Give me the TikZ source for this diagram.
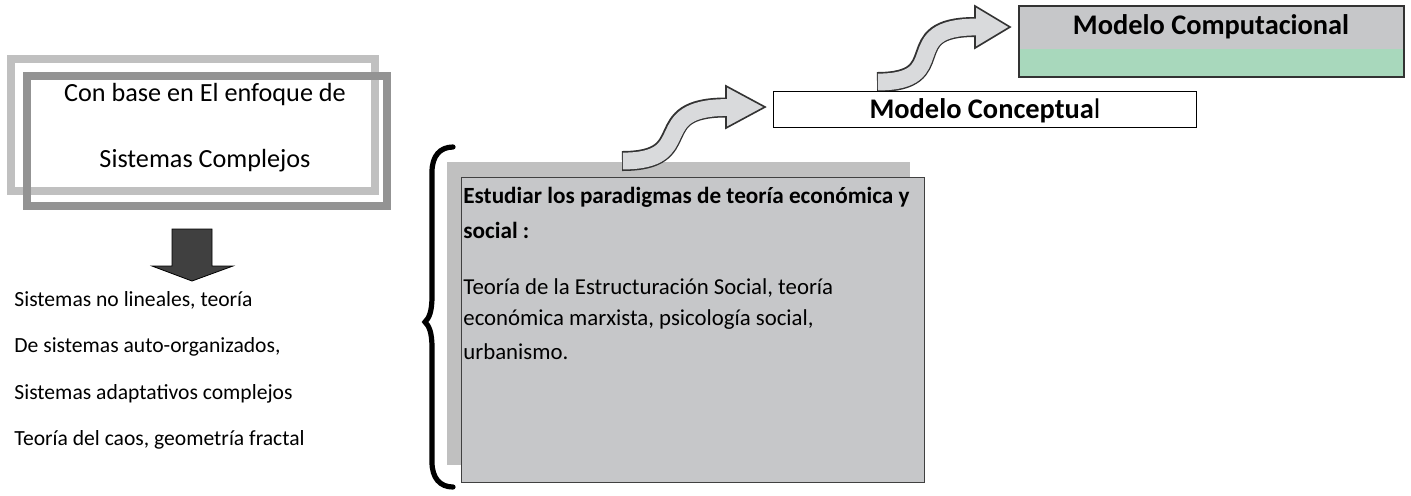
\documentclass[tikz,border=0pt]{standalone}
\usepackage{fontspec}
\setmainfont{Carlito}
\definecolor{lightframe}{HTML}{C0C0C0}
\definecolor{darkframe}{HTML}{939393}
\definecolor{boxgray}{HTML}{C6C7C9}
\definecolor{backgray}{HTML}{C0C0C0}
\definecolor{arrowgray}{HTML}{D9DADC}
\definecolor{edgegray}{HTML}{333333}
\definecolor{mintgreen}{HTML}{A8D8BC}
\definecolor{downgray}{HTML}{404040}
\begin{document}
\begin{tikzpicture}[x=0.5pt,y=-0.5pt,
  listtext/.style={anchor=west,inner sep=0pt,font=\fontsize{10.8}{12}\selectfont},
  boxtext/.style={anchor=west,inner sep=0pt,font=\fontsize{11.4}{13}\selectfont},
  boxbold/.style={anchor=west,inner sep=0pt,font=\bfseries\fontsize{11.6}{13}\selectfont},
  frametext/.style={inner sep=0pt,font=\fontsize{13.1}{15}\selectfont},
  titletext/.style={inner sep=0pt,font=\bfseries\fontsize{14.2}{16}\selectfont},
  bandout/.style={line width=10pt,draw=edgegray},
  bandin/.style={line width=8.4pt,draw=arrowgray},
  headstyle/.style={fill=arrowgray,draw=edgegray,line width=0.8pt,line join=miter}
]
\useasboundingbox (0,0) rectangle (1411,495);
\fill[white] (0,0) rectangle (1411,495);

% double frame
\draw[lightframe,line width=4pt] (11,59) rectangle (375,191);
\draw[darkframe,line width=4pt] (27,76) rectangle (387,206);
\node[frametext] (t1) at (205,95) {Con base en El enfoque de};
\node[frametext] (t2) at (205,161) {Sistemas Complejos};

% down arrow
\draw[fill=downgray,draw=black,line width=0.4pt,line join=miter]
  (172,229) -- (212,229) -- (212,266) -- (233,266) -- (192,281) -- (152,266) -- (172,266) -- cycle;

% left list
\node[listtext] (l1) at (14,300) {Sistemas no lineales, teoría};
\node[listtext] (l2) at (14,347) {De sistemas auto-organizados,};
\node[listtext] (l3) at (14,394) {Sistemas adaptativos complejos};
\node[listtext] (l4) at (14,440) {Teoría del caos, geometría fractal};

% brace
\draw[black,line width=2.6pt,line cap=round]
  (453,147) .. controls (440,147) and (432,156) .. (432,172)
  -- (432,296) .. controls (432,312) and (429,318) .. (425,322)
  .. controls (429,326) and (432,332) .. (432,348)
  -- (432,462) .. controls (432,478) and (440,487) .. (453,487);

% back gray rectangle
\fill[backgray] (447,162) rectangle (910,465);

% curved arrow 1
\coordinate (a1s) at (622,161);
\coordinate (a1e) at (726,107.5);
\draw[bandout] (a1s) .. controls (700,161) and (645,107.5) .. (a1e);
\draw[headstyle] (726,86) -- (765,107) -- (726,128) -- cycle;
\draw[bandin] (622.9,161) .. controls (700,161) and (645,107.5) .. (727.5,107.5);

% front box
\node[draw=downgray,fill=boxgray,line width=0.6pt,inner sep=0pt,
  anchor=north west,minimum width=231.5pt,minimum height=152.5pt] (para) at (461,177) {};
\node[boxbold] (p1) at (463,197) {Estudiar los paradigmas de teoría económica y};
\node[boxbold] (p2) at (463,230) {social :};
\node[boxtext] (p3) at (463,288) {Teoría de la Estructuración Social, teoría};
\node[boxtext] (p4) at (463,320) {económica marxista, psicología social,};
\node[boxtext] (p5) at (463,352) {urbanismo.};

% curved arrow 2
\coordinate (a2s) at (877,82);
\coordinate (a2e) at (975,27);
\draw[bandout] (a2s) .. controls (955,82) and (895,27) .. (a2e);
\draw[headstyle] (975,6) -- (1010,27) -- (975,48) -- cycle;
\draw[bandin] (877.9,82) .. controls (955,82) and (895,27) .. (976.5,27);

% Modelo Conceptual
\node[draw=black,fill=white,line width=0.7pt,inner sep=0pt,anchor=north west,
  minimum width=211.5pt,minimum height=18pt] (mc) at (773,91) {};
\node[titletext] (mct) at (985,111) {Modelo Conceptua\mdseries l};

% Modelo Computacional
\fill[mintgreen] (1018,49) rectangle (1403,76);
\fill[boxgray] (1018,5) rectangle (1403,49);
\node[draw=edgegray,line width=0.9pt,inner sep=0pt,anchor=north west,
  minimum width=192.5pt,minimum height=35.5pt] (mp) at (1018,5) {};
\node[titletext] (mpt) at (1211,27) {Modelo Computacional};
\end{tikzpicture}
\end{document}
